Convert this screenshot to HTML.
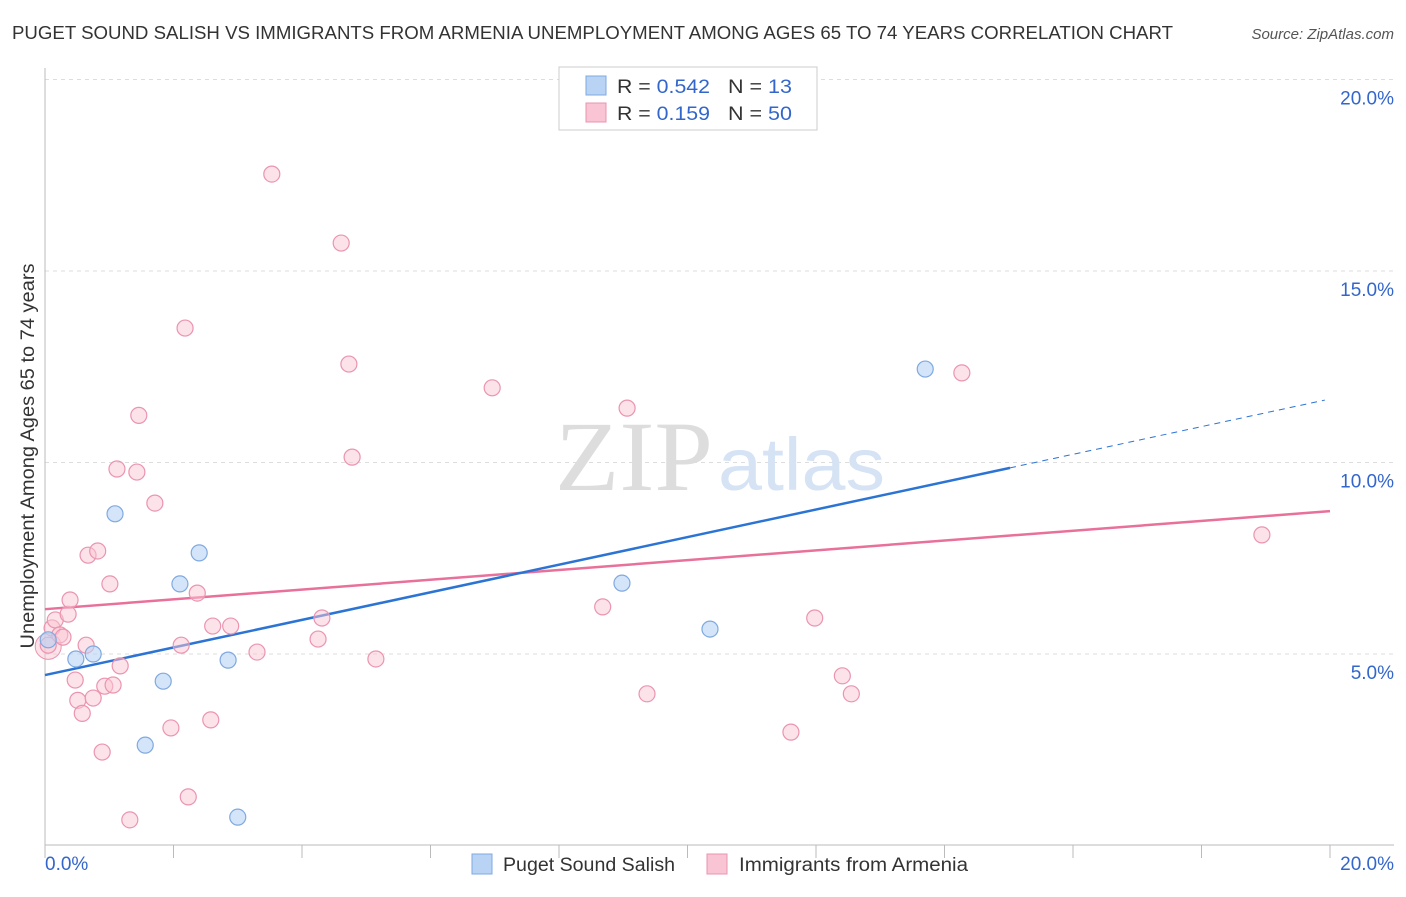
<!DOCTYPE html>
<html><head><meta charset="utf-8"><style>
body{margin:0;background:#fff;font-family:"Liberation Sans",sans-serif;}
svg text{font-family:"Liberation Sans",sans-serif;}
</style></head><body>
<svg width="1406" height="892" id="chart">
<text x="12" y="39" font-size="18" fill="#333" textLength="1161" lengthAdjust="spacingAndGlyphs">PUGET SOUND SALISH VS IMMIGRANTS FROM ARMENIA UNEMPLOYMENT AMONG AGES 65 TO 74 YEARS CORRELATION CHART</text>
<text x="1394" y="39" font-size="15" fill="#555" font-style="italic" text-anchor="end">Source: ZipAtlas.com</text>
<text x="0" y="0" font-size="19" fill="#333" transform="translate(34,456) rotate(-90)" text-anchor="middle" textLength="385" lengthAdjust="spacingAndGlyphs">Unemployment Among Ages 65 to 74 years</text>
<g id="grid"></g>
<text x="555" y="490" font-size="100" fill="#ddd" textLength="158" lengthAdjust="spacingAndGlyphs" style="font-family:'Liberation Serif',serif">ZIP</text>
<text x="718" y="490" font-size="74" fill="#d5e3f5" textLength="167" lengthAdjust="spacingAndGlyphs">atlas</text>
<g id="lines"></g>
<g id="points"></g>
<g>
<rect x="559" y="67" width="258" height="63" fill="#fff" stroke="#ccc"/>
<rect x="586" y="76" width="20" height="19" fill="#b9d3f5" stroke="#7fa9e0"/>
<rect x="586" y="103" width="20" height="19" fill="#f9c5d4" stroke="#eb94b0"/>
<text x="617" y="93" font-size="19" fill="#333" textLength="93" lengthAdjust="spacingAndGlyphs">R = <tspan fill="#3366cc">0.542</tspan></text>
<text x="728" y="93" font-size="19" fill="#333" textLength="64" lengthAdjust="spacingAndGlyphs">N = <tspan fill="#3366cc"> 13</tspan></text>
<text x="617" y="120" font-size="19" fill="#333" textLength="93" lengthAdjust="spacingAndGlyphs">R = <tspan fill="#3366cc"> 0.159</tspan></text>
<text x="728" y="120" font-size="19" fill="#333" textLength="64" lengthAdjust="spacingAndGlyphs">N = <tspan fill="#3366cc">50</tspan></text>
</g>
<g>
<rect x="472" y="854" width="20" height="20" fill="#b9d3f5" stroke="#7fa9e0"/>
<text x="503" y="871" font-size="19" fill="#333" textLength="172" lengthAdjust="spacingAndGlyphs">Puget Sound Salish</text>
<rect x="707" y="854" width="20" height="20" fill="#f9c5d4" stroke="#eb94b0"/>
<text x="739" y="871" font-size="19" fill="#333" textLength="229" lengthAdjust="spacingAndGlyphs">Immigrants from Armenia</text>
</g>
</svg>
<script>
const xTicks=[0,2,4,6,8,10,12,14,16,18,20];
const yTicks=[5,10,15,20];
const yTickLabels=["5.0%","10.0%","15.0%","20.0%"];
const blueX=[0.05,0.48,0.75,1.09,1.56,1.84,2.1,2.4,2.85,3.0,8.98,10.35,13.7];
const blueY=[5.37,4.87,5.0,8.66,2.62,4.29,6.83,7.64,4.84,0.74,6.85,5.65,12.44];
const pinkX=[0.05,0.11,0.16,0.23,0.28,0.36,0.39,0.47,0.51,0.58,0.64,0.67,0.75,0.82,0.89,0.93,1.01,1.06,1.12,1.17,1.32,1.43,1.46,1.71,1.96,2.12,2.18,2.23,2.37,2.58,2.61,2.89,3.3,3.53,4.25,4.31,4.61,4.73,4.78,5.15,6.96,8.68,9.06,9.37,11.61,11.98,12.41,12.55,14.27,18.94];
const pinkY=[5.23,5.68,5.89,5.5,5.44,6.04,6.41,4.32,3.79,3.45,5.23,7.58,3.85,7.69,2.44,4.16,6.83,4.19,9.83,4.69,0.67,9.75,11.23,8.94,3.07,5.23,13.51,1.27,6.59,3.28,5.73,5.73,5.05,17.53,5.39,5.94,15.73,12.57,10.14,4.87,11.95,6.23,11.42,3.96,2.96,5.94,4.43,3.96,12.34,8.11];
const blueLine=[[0,4.45],[15.02,9.86]];
const blueDash=[[15.02,9.86],[19.92,11.63]];
const pinkLine=[[0,6.17],[20,8.73]];
const NS="http://www.w3.org/2000/svg";
const sx=v=>45+v*64.25, sy=v=>845.5-v*38.3;
function mk(tag,at,parent){const e=document.createElementNS(NS,tag);for(const k in at)e.setAttribute(k,at[k]);document.getElementById(parent).appendChild(e);return e;}
yTicks.forEach((t,i)=>{
 const l=mk('line',{x1:45,x2:1394,y1:sy(t),y2:sy(t),stroke:'#ddd','stroke-dasharray':'4,4'},'grid');
 
 
 const tx=mk('text',{x:1394,y:sy(t)+25,'font-size':19,fill:'#3366cc','text-anchor':'end'},'grid');
 tx.textContent=yTickLabels[i];
 
 
});
const ax=mk('line',{x1:45,x2:45,y1:68,y2:845,stroke:'#bbb'},'grid');


const bx=mk('line',{x1:45,x2:1394,y1:845,y2:845,stroke:'#bbb'},'grid');


xTicks.forEach(t=>{
 const l=mk('line',{x1:sx(t),x2:sx(t),y1:845,y2:858,stroke:'#bbb'},'grid');
 
 
});
[[0,'0.0%','start',45],[20,'20.0%','end',1394]].forEach(a=>{
 const t=mk('text',{x:a[3],y:870,'font-size':19,fill:'#3366cc','text-anchor':a[2]},'grid');
 t.textContent=a[1];
 
 
});
function ln(p,c,dash,name){const l=mk('line',{x1:sx(p[0][0]),y1:sy(p[0][1]),x2:sx(p[1][0]),y2:sy(p[1][1]),stroke:c,'stroke-width':dash?1:2.5},'lines');if(dash)l.setAttribute('stroke-dasharray','6,5');
 
 }
ln(pinkLine,'#e8709a',false,'armenia-trend-line');
ln(blueLine,'#2c74d4',false,'salish-trend-line');
ln(blueDash,'#2c74d4',true,'salish-trend-extension');
const big=mk('circle',{cx:sx(0.05),cy:sy(5.2),r:13,fill:'rgba(249,197,212,0.5)',stroke:'#eb94b0'},'points');


pinkX.forEach((x,i)=>{
 const c=mk('circle',{cx:sx(x),cy:sy(pinkY[i]),r:8,fill:'rgba(249,197,212,0.5)',stroke:'#eb94b0','stroke-width':1.2},'points');
 
 
});
blueX.forEach((x,i)=>{
 const c=mk('circle',{cx:sx(x),cy:sy(blueY[i]),r:8,fill:'rgba(185,211,245,0.6)',stroke:'#7fa9e0','stroke-width':1.2},'points');
 
 
});
</script>
</body></html>
